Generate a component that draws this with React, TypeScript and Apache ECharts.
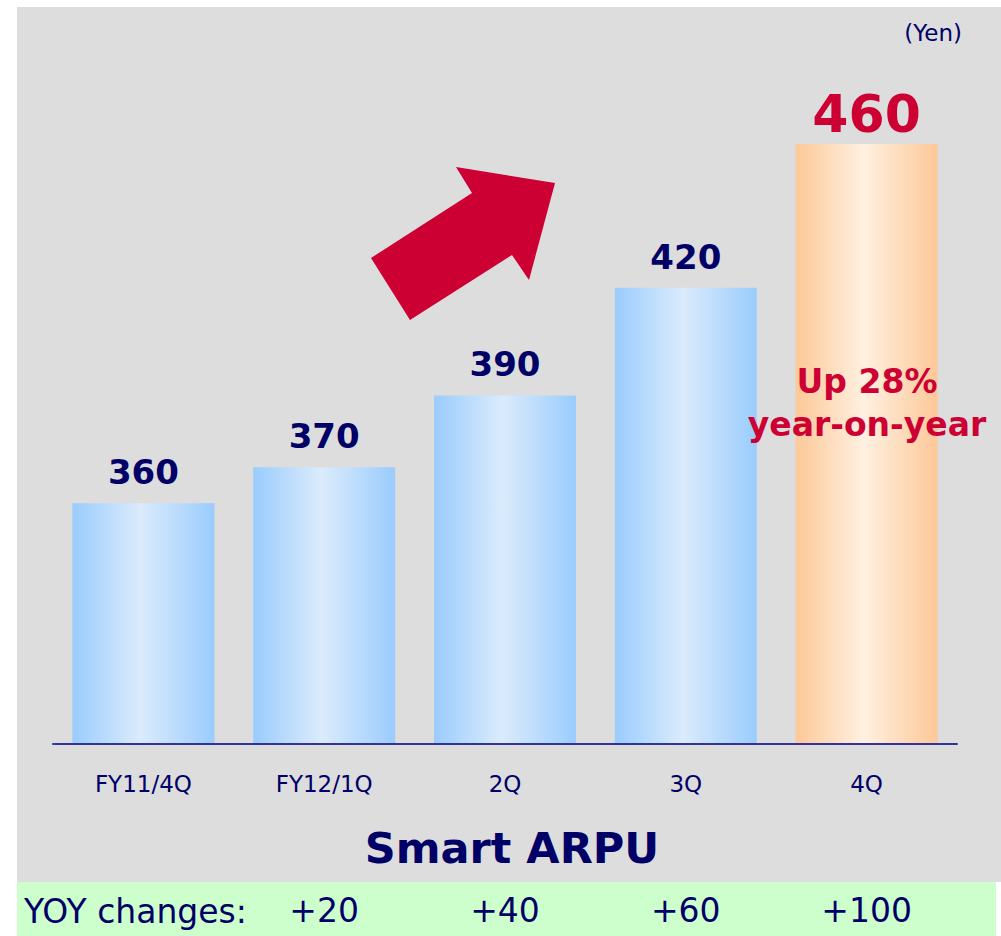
import React, { useEffect, useRef } from "react";
import * as echarts from "echarts";

const categories = ["FY11/4Q", "FY12/1Q", "2Q", "3Q", "4Q"];
const arpuValues = [360, 370, 390, 420, 460];
const yoyLabels = ["", "+20", "+40", "+60", "+100"];
const titleText = "Smart ARPU";
const unitText = "(Yen)";
const noteText = "Up 28%\nyear-on-year";
const yoyTitle = "YOY changes:";

const NAVY = "#000066";
const RED = "#cc0033";
const FONT = "'DejaVu Sans', Verdana, sans-serif";

export default function App() {
  const ref = useRef<HTMLDivElement>(null);

  useEffect(() => {
    if (!ref.current) return;
    const chart = echarts.init(ref.current, undefined, { renderer: "svg" });

    const blueGrad = new echarts.graphic.LinearGradient(0, 0, 1, 0, [
      { offset: 0, color: "#9accfd" },
      { offset: 0.48, color: "#dbebfc" },
      { offset: 1, color: "#9accfd" },
    ]);
    const orangeGrad = new echarts.graphic.LinearGradient(0, 0, 1, 0, [
      { offset: 0, color: "#fdc898" },
      { offset: 0.48, color: "#fff0e1" },
      { offset: 1, color: "#fdc898" },
    ]);

    const last = arpuValues.length - 1;
    const seriesData = arpuValues.map((v, i) =>
      i === last
        ? {
            value: v,
            itemStyle: { color: orangeGrad },
            label: { color: RED, fontSize: 52, distance: 4 },
          }
        : { value: v, itemStyle: { color: blueGrad } }
    );

    chart.setOption({
      animation: false,
      backgroundColor: "#ffffff",
      grid: { left: 53, right: 44, top: 144, bottom: 192, containLabel: false },
      xAxis: [
        {
          type: "category",
          data: categories,
          position: "bottom",
          z: 10,
          axisLine: { show: true, lineStyle: { color: "#333399", width: 2 } },
          axisTick: { show: false },
          axisLabel: {
            color: NAVY,
            fontFamily: FONT,
            fontSize: 23,
            margin: 28,
          },
        },
        {
          type: "category",
          data: yoyLabels,
          position: "bottom",
          offset: 0,
          axisLine: { show: false },
          axisTick: { show: false },
          axisLabel: {
            color: NAVY,
            fontFamily: FONT,
            fontSize: 33,
            margin: 150,
          },
        },
      ],
      yAxis: {
        type: "value",
        min: 293,
        max: 460,
        show: false,
        splitLine: { show: false },
      },
      series: [
        {
          type: "bar",
          xAxisIndex: 0,
          data: seriesData,
          barWidth: 142,
          z: 2,
          label: {
            show: true,
            position: "top",
            distance: 14,
            color: NAVY,
            fontFamily: FONT,
            fontWeight: "bold",
            fontSize: 34,
          },
        },
      ],
      graphic: [
        {
          type: "rect",
          z: -10,
          shape: { x: 17, y: 7, width: 984, height: 875 },
          style: { fill: "#dddddd" },
        },
        {
          type: "rect",
          z: -10,
          shape: { x: 17, y: 882, width: 979, height: 54 },
          style: { fill: "#ccffcc" },
        },
        {
          type: "polygon",
          z: 1,
          shape: {
            points: [
              [371, 258],
              [472, 193],
              [456, 167],
              [555, 183],
              [529, 280],
              [512, 255],
              [410, 320],
            ],
          },
          style: { fill: RED },
        },
        {
          type: "text",
          z: 10,
          x: 962,
          y: 33,
          style: {
            text: unitText,
            fill: NAVY,
            fontFamily: FONT,
            fontSize: 23,
            textAlign: "right",
            textVerticalAlign: "middle",
          },
        },
        {
          type: "text",
          z: 10,
          x: 512,
          y: 848,
          style: {
            text: titleText,
            fill: NAVY,
            fontFamily: FONT,
            fontWeight: "bold",
            fontSize: 43,
            textAlign: "center",
            textVerticalAlign: "middle",
          },
        },
        {
          type: "text",
          z: 10,
          x: 867,
          y: 403,
          style: {
            text: noteText,
            fill: RED,
            fontFamily: FONT,
            fontWeight: "bold",
            fontSize: 33,
            lineHeight: 43,
            textAlign: "center",
            textVerticalAlign: "middle",
          },
        },
        {
          type: "text",
          z: 10,
          x: 24,
          y: 911,
          style: {
            text: yoyTitle,
            fill: NAVY,
            fontFamily: FONT,
            fontSize: 33,
            textAlign: "left",
            textVerticalAlign: "middle",
          },
        },
      ],
    });

    return () => chart.dispose();
  }, []);

  return (
    <div
      ref={ref}
      style={{ position: "absolute", left: 0, top: 0, width: 1001, height: 936 }}
    />
  );
}
